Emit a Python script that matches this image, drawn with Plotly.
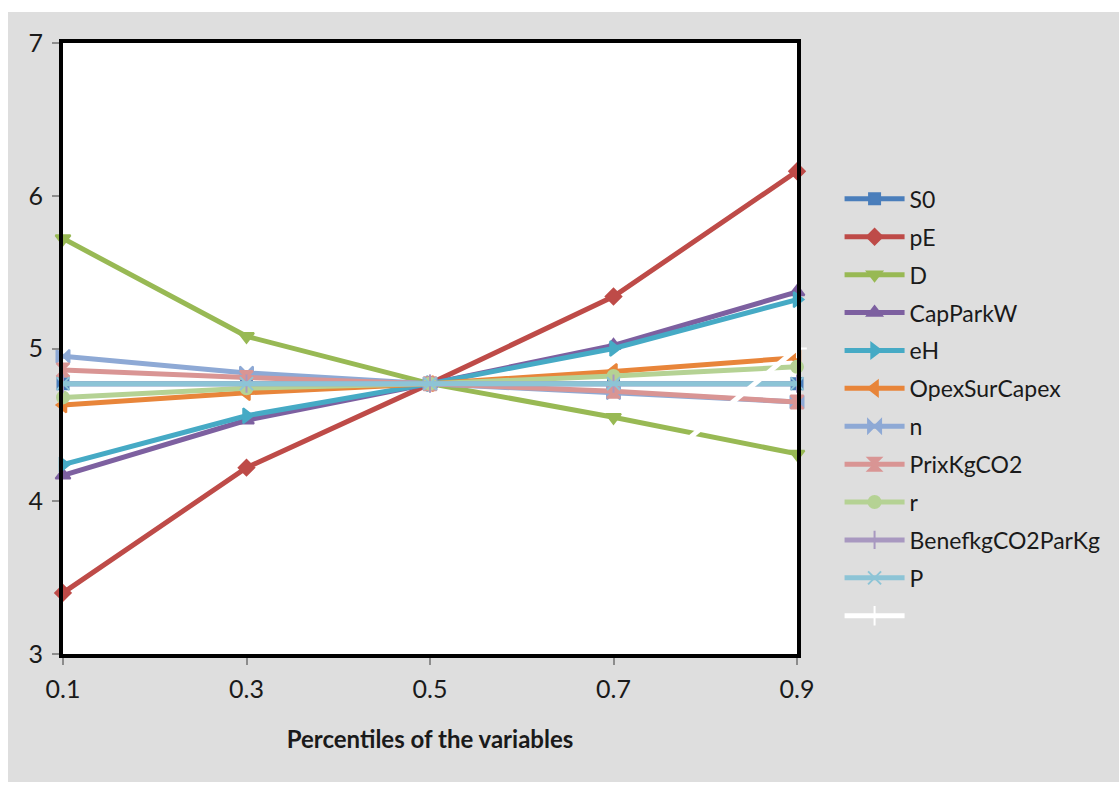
import plotly.graph_objects as go

# Percentile positions on the x axis
percentiles = [0.1, 0.3, 0.5, 0.7, 0.9]

# Output value of the model for each variable at each percentile
S0 = [4.77, 4.77, 4.77, 4.77, 4.77]
pE = [3.40, 4.22, 4.77, 5.34, 6.16]
D = [5.72, 5.08, 4.77, 4.55, 4.31]
CapParkW = [4.17, 4.53, 4.77, 5.02, 5.37]
eH = [4.24, 4.56, 4.77, 5.00, 5.32]
OpexSurCapex = [4.63, 4.71, 4.77, 4.85, 4.94]
n = [4.95, 4.84, 4.77, 4.71, 4.65]
PrixKgCO2 = [4.86, 4.81, 4.77, 4.72, 4.65]
r = [4.68, 4.74, 4.77, 4.82, 4.88]
BenefkgCO2ParKg = [4.77, 4.77, 4.77, 4.77, 4.77]
P = [4.77, 4.77, 4.77, 4.77, 4.77]
unnamed = [None, None, 3.0, 4.0, 5.0]

series = [
    ("S0", S0, "#4A7EBB", "square", 11),
    ("pE", pE, "#BE4B48", "diamond", 12),
    ("D", D, "#98B954", "triangle-down", 13),
    ("CapParkW", CapParkW, "#7D60A0", "triangle-up", 13),
    ("eH", eH, "#46AAC5", "triangle-right", 13),
    ("OpexSurCapex", OpexSurCapex, "#E8853A", "triangle-left", 13),
    ("n", n, "#8EA9D5", "bowtie", 13),
    ("PrixKgCO2", PrixKgCO2, "#D99594", "hourglass", 13),
    ("r", r, "#B5D294", "circle", 12),
    ("BenefkgCO2ParKg", BenefkgCO2ParKg, "#A898C0", "line-ns-open", 13),
    ("P", P, "#8DC4D6", "x-thin-open", 13),
    (" ", unnamed, "#FFFFFF", "cross-thin-open", 14),
]

fig = go.Figure()
for name, vals, color, symbol, size in series:
    fig.add_trace(go.Scatter(
        x=percentiles, y=vals, name=name, mode="lines+markers",
        line=dict(color=color, width=5),
        marker=dict(symbol=symbol, size=size, color=color,
                    line=dict(color=color, width=2)),
        cliponaxis=False, legendgroup=name,
    ))

font_family = "Lato, 'Open Sans', sans-serif"

fig.update_layout(
    width=1119, height=787,
    margin=dict(l=63, r=322, t=43, b=133),
    paper_bgcolor="#FFFFFF",
    plot_bgcolor="rgba(0,0,0,0)",
    font=dict(family=font_family, size=22, color="#1A1A1A"),
    showlegend=True,
    legend=dict(x=1.058, y=0.78, xanchor="left", yanchor="top",
                bgcolor="rgba(0,0,0,0)", font=dict(size=23),
                itemwidth=60, tracegroupgap=5),
    shapes=[
        # grey chart area
        dict(type="rect", xref="paper", yref="paper",
             x0=-55 / 734, x1=1056 / 734, y0=-128 / 611, y1=642 / 611,
             fillcolor="#DEDEDE", line=dict(width=0), layer="below"),
        # white plotting area
        dict(type="rect", xref="paper", yref="paper", x0=0, x1=1, y0=0, y1=1,
             fillcolor="#FFFFFF", line=dict(width=0), layer="below"),
    ],
    xaxis=dict(
        range=[0.1, 0.9], tickvals=percentiles,
        ticktext=["0.1", "0.3", "0.5", "0.7", "0.9"],
        showgrid=False, zeroline=False,
        showline=True, linecolor="#000000", linewidth=4, mirror=True,
        ticks="outside", ticklen=7, tickcolor="#8C8C8C", tickwidth=1.5,
        tickfont=dict(size=25), ticklabelstandoff=3,
        title=dict(text="<b>Percentiles of the variables</b>",
                   font=dict(size=24), standoff=30),
    ),
    yaxis=dict(
        range=[3, 7], tickvals=[3, 4, 5, 6, 7],
        showgrid=False, zeroline=False,
        showline=True, linecolor="#000000", linewidth=4, mirror=True,
        ticks="outside", ticklen=7, tickcolor="#8C8C8C", tickwidth=1.5,
        tickfont=dict(size=25), ticklabelstandoff=4,
    ),
)

fig.write_html("out.html")
